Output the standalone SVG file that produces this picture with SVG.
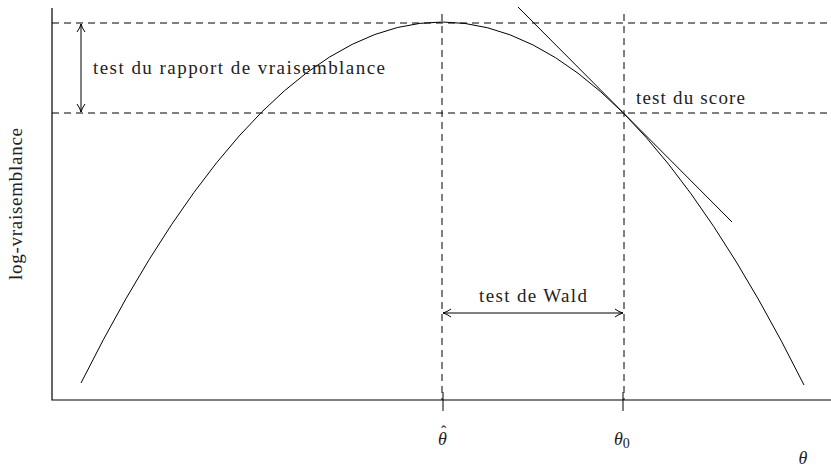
<svg xmlns="http://www.w3.org/2000/svg" width="831" height="467" viewBox="0 0 831 467">
<style>
.ax{stroke:#000;stroke-width:1.2;fill:none}
.ln{stroke:#000;stroke-width:1;fill:none}
.dash{stroke:#000;stroke-width:1;fill:none;stroke-dasharray:7 5}
text{font-family:"Liberation Serif","DejaVu Serif",serif;font-size:19px;fill:#222}
.m{font-style:italic;font-size:18px}
</style>
<defs>
<marker id="ah" viewBox="0 0 10 10" refX="9" refY="5" markerWidth="10" markerHeight="10" markerUnits="userSpaceOnUse" orient="auto-start-reverse">
<path d="M1,1 Q5,4 9,5 Q5,6 1,9" fill="none" stroke="#000" stroke-width="1"/>
</marker>
</defs>
<rect width="831" height="467" fill="#fff"/>
<g id="axes">
<path class="ax" d="M52,8 V400 H831"/>
<path class="ln" d="M443,392 V411 M623,392 V411"/>
</g>
<g id="guides">
<path class="dash" d="M52,23 H831"/>
<path class="dash" d="M52,113 H831"/>
<path class="dash" d="M442,14 V400"/>
<path class="dash" d="M624,14 V400"/>
</g>
<g id="curve">
<path class="ln" d="M81,383 Q442.5,-340 804,385"/>
</g>
<g id="tangent">
<path class="ln" d="M518,7 L732,222"/>
</g>
<g id="connectors">
<path class="ln" d="M81,24 V112" marker-start="url(#ah)" marker-end="url(#ah)"/>
<path class="ln" d="M443,313 H623" marker-start="url(#ah)" marker-end="url(#ah)"/>
</g>
<g id="labels">
<text x="93" y="74" textLength="292" lengthAdjust="spacing">test du rapport de vraisemblance</text>
<text x="636" y="104" textLength="109" lengthAdjust="spacing">test du score</text>
<text x="479" y="302" textLength="108" lengthAdjust="spacing">test de Wald</text>
<text transform="translate(22,280) rotate(-90)" textLength="152" lengthAdjust="spacing">log-vraisemblance</text>
<text class="m" x="438" y="445">θ<tspan x="441" y="437" font-style="normal" font-size="16">ˆ</tspan></text>
<text class="m" x="614" y="445">θ<tspan font-style="normal" font-size="14" dy="3">0</tspan></text>
<text class="m" x="803" y="464" text-anchor="middle">θ</text>
</g>
</svg>
